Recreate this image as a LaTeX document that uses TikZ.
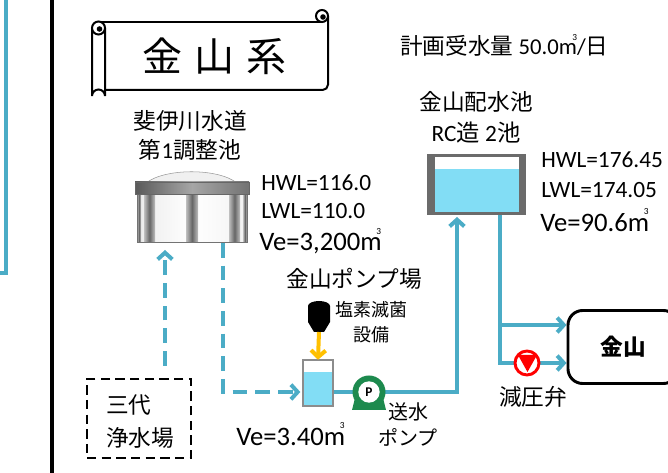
\documentclass[tikz,border=0pt]{standalone}
\usepackage{fontspec}
\setmainfont{Carlito}
\newfontfamily\jp{Noto Sans CJK JP}
\newfontfamily\lt{Carlito}
\usetikzlibrary{arrows.meta}

\definecolor{pipeblue}{HTML}{4BACC6}
\definecolor{water}{HTML}{82DDF5}
\definecolor{framegray}{HTML}{6B6B6B}
\definecolor{pumpgreen}{HTML}{1D8A4E}
\definecolor{chlorine}{HTML}{FFC000}

% cubic metre: m with a small 3 set above it
\newcommand\cbm{m\kern-0.2em\raisebox{0.62em}{\fontsize{7pt}{7pt}\selectfont 3}}

\pgfdeclarelayer{pipes}
\pgfsetlayers{pipes,main}

\tikzset{
  pipe/.style={draw=pipeblue, line width=3pt},
  flow/.style={pipe, -{Straight Barb[length=5pt,width=11pt]}},
  planned/.style={flow, dash pattern=on 11pt off 6pt},
  jtext/.style={inner sep=0pt, font=\jp\fontsize{17pt}{17pt}\selectfont},
  jsmall/.style={inner sep=0pt, font=\jp\fontsize{13.5pt}{13.5pt}\selectfont},
  ltext/.style={inner sep=0pt, anchor=west, font=\lt\fontsize{17.5pt}{17.5pt}\selectfont},
  vtext/.style={inner sep=0pt, anchor=west, font=\lt\fontsize{20pt}{20pt}\selectfont},
}

\begin{document}
\begin{tikzpicture}[x=0.75pt,y=-0.75pt]
\clip (0,0) rectangle (668,473);

% neighbouring pipe and the divider line
\coordinate (lpTop) at (6,-5);
\coordinate (lpEnd) at (-5,273);
\draw[pipe] (lpTop) |- (lpEnd);
\coordinate (divTop) at (52,-5);
\coordinate (divBot) at (52,480);
\draw[line width=3pt] (divTop) -- (divBot);

% scroll banner
\begin{scope}[line width=1.5pt]
  \draw (96,22) -- (322,22);
  \draw[rounded corners=4pt] (328,16) -- (328,90) -- (105,90);
  \draw[fill=white] (322,16) circle (6);
  \fill (323,17) circle (2.8);
  \draw[fill=white] (92,28) -- (92,96) arc[start angle=180,end angle=360,radius=6.5] -- (105,28);
  \draw[fill=white] (98.5,28) circle (6.5);
  \fill (99.5,29) circle (2.8);
\end{scope}
\node[inner sep=0pt, font=\jp\fontsize{30pt}{30pt}\selectfont] (title) at (214,56) {金\hspace{9pt}山\hspace{9pt}系};

\node[jtext, anchor=west] (plan) at (400,45) {計画受水量 {\lt 50.0\cbm/}日};

% regulating tank
\node[jtext] (t1name1) at (190,121) {斐伊川水道};
\node[jtext] (t1name2) at (190,150) {第{\lt 1}調整池};
\node[minimum width=84pt, minimum height=45pt, inner sep=0pt] (tank1) at (192,212) {};
\draw[black!40, fill=black!6] (146,183) .. controls (165,168) and (218,168) .. (237,183);
\shade[left color=black!8, right color=black!5, middle color=white] (137,193) rectangle (247,242);
\foreach \a/\b in {137/141,144/155,186/198,229/240,243/247}
  \shade[left color=black!25, right color=black!25, middle color=black!60] (\a,193) rectangle (\b,242);
\draw[black!55] (137,193) rectangle (247,242);
\shade[left color=black!65, right color=black!55, middle color=black!35] (135,182) rectangle (249,194);
\draw[black!60] (135,182) rectangle (249,194);
\node[ltext] (hwl1) at (261,183) {HWL=116.0};
\node[ltext] (lwl1) at (261,211) {LWL=110.0};
\node[vtext] (ve1) at (259,241) {Ve=3,200\cbm};

% distribution reservoir
\node[jtext] (resname1) at (476,102) {金山配水池};
\node[inner sep=0pt, font=\lt\fontsize{17.5pt}{17.5pt}\selectfont] (resname2) at (476,133) {RC{\jp 造} 2{\jp 池}};
\node[fill=framegray, minimum width=74.25pt, minimum height=45.75pt, inner sep=0pt] (res) at (476.5,184.5) {};
\fill[white] (435,157) rectangle (519,169);
\fill[water] (435,169) rectangle (519,212);
\node[ltext] (hwl2) at (541,160) {HWL=176.45};
\node[ltext] (lwl2) at (541,190) {LWL=174.05};
\node[vtext] (ve2) at (540,220) {Ve=90.6\cbm};

% pump station
\node[jtext] (pstation) at (354,279) {金山ポンプ場};
\fill (308,322) -- (308,306) arc[start angle=180,end angle=360,x radius=11,y radius=5] -- (330,322) -- (324,332) -- (314,332) -- cycle;
\coordinate (bottle) at (319,332);
\node[jsmall] (chlor1) at (371,310) {塩素滅菌};
\node[jsmall] (chlor2) at (371,335) {設備};
\node[minimum width=22.5pt, minimum height=34.5pt, inner sep=0pt] (ctank) at (318,383) {};
\fill[white] (303,360) rectangle (333,372);
\fill[water] (303,372) rectangle (333,406);
\draw[black!45, line width=1.2pt] (303,360) rectangle (333,406);
\draw[chlorine, line width=3pt, -{Straight Barb[length=5pt,width=11pt]}] (bottle) -- (ctank.north);
\node[vtext] (ve3) at (236,434) {Ve=3.40\cbm};

% transfer pump
\node[circle, fill=pumpgreen, minimum size=24.75pt, inner sep=0pt] (pump) at (369,392) {};
\fill[pumpgreen] (355,398) -- (352,410) -- (386,410) -- (383,398) -- cycle;
\node[circle, fill=white, minimum size=16pt, inner sep=0pt, font=\lt\bfseries\fontsize{10pt}{10pt}\selectfont] (pumpP) at (369,392) {P};
\node[inner sep=0pt, font=\jp\fontsize{15pt}{15pt}\selectfont] (send1) at (408,412) {送水};
\node[inner sep=0pt, font=\jp\fontsize{15pt}{15pt}\selectfont] (send2) at (408,437) {ポンプ};

% pressure reducing valve
\node[circle, draw=red, fill=white, line width=2.2pt, minimum size=18pt, inner sep=0pt] (valve) at (527,363) {};
\fill[red] (518,355) -- (537,355) -- (527.5,372) -- cycle;
\node[jtext] (valvelbl) at (533,397) {減圧弁};

% supply area
\node[draw, line width=2.2pt, rounded corners=11pt, minimum width=82.5pt, minimum height=54.75pt, inner sep=0pt, font=\jp\bfseries\fontsize{17pt}{17pt}\selectfont] (kana) at (623,347) {金山};

% water treatment plant
\node[draw, line width=1.8pt, dash pattern=on 7pt off 4pt, minimum width=78pt, minimum height=59.25pt, inner sep=0pt] (mishiro) at (139,418.5) {};
\node[jtext, anchor=west] (mishiro1) at (106,405) {三代};
\node[jtext, anchor=west] (mishiro2) at (106,438) {浄水場};

% pipes
\coordinate (t1in) at (165,250);
\coordinate (t1out) at (223,243);
\coordinate (ctin) at (303,392);
\coordinate (resIn) at (457,215);
\coordinate (resOut) at (500,215);
\coordinate (split) at (500,325);
\begin{pgfonlayer}{pipes}
  \draw[planned, shorten <=9pt] (t1in |- mishiro.north) -- (t1in);
  \draw[planned, shorten >=2pt] (t1out) |- (ctin);
  \draw[pipe] (ctank.east |- pump.center) -- (pump.center);
  \draw[flow, shorten >=1.5pt] (pump.center) -| (resIn);
  \draw[pipe] (resOut) |- (valve.center);
  \draw[flow] (valve.east) -- (kana.west |- valve.east);
  \draw[flow] (split) -- (kana.west |- split);
\end{pgfonlayer}
\end{tikzpicture}
\end{document}
